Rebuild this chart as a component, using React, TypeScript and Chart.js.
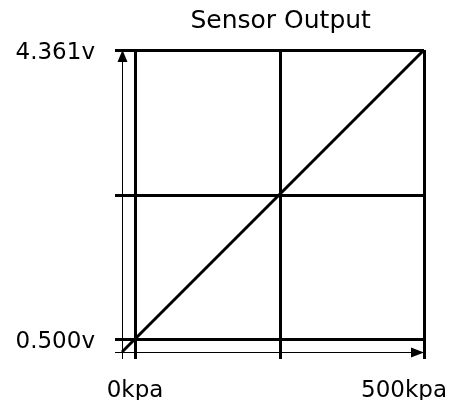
import React, { useEffect, useRef } from "react";
import { Chart, registerables } from "chart.js";

Chart.register(...registerables);

const chartTitle = "Sensor Output";
const xAxisMin = -22.5;
const xAxisMax = 500;
const yAxisMin = 0.33;
const yAxisMax = 4.361;
const xTickValues = [0, 252, 500];
const xTickLabels = ["0kpa", "", "500kpa"];
const yTickValues = [0.5, 2.42, 4.361];
const yTickLabels = ["0.500v", "", "4.361v"];
const pressureKpa = [-22.5, 500];
const outputVolts = [0.33, 4.361];

const FONT = "'DejaVu Sans', sans-serif";

export default function App() {
  const ref = useRef<HTMLCanvasElement>(null);

  useEffect(() => {
    const canvas = ref.current;
    if (!canvas) return;

    const axisArrows = {
      id: "axisArrows",
      afterDraw(chart: any) {
        const { ctx, chartArea: a } = chart;
        const x = Math.round(a.left) + 0.5;
        const y = Math.round(a.bottom) + 0.5;
        ctx.save();
        ctx.fillStyle = "#000";
        ctx.beginPath();
        ctx.moveTo(x, a.top);
        ctx.lineTo(x - 5, a.top + 12);
        ctx.lineTo(x + 5, a.top + 12);
        ctx.closePath();
        ctx.fill();
        ctx.beginPath();
        ctx.moveTo(a.right, y);
        ctx.lineTo(a.right - 13, y - 5);
        ctx.lineTo(a.right - 13, y + 5);
        ctx.closePath();
        ctx.fill();
        ctx.restore();
      },
    };

    const centeredTitle = {
      id: "centeredTitle",
      afterDraw(chart: any) {
        const { ctx } = chart;
        const xs = chart.scales.x;
        ctx.save();
        ctx.font = `25px ${FONT}`;
        ctx.fillStyle = "#000";
        ctx.textAlign = "center";
        ctx.textBaseline = "alphabetic";
        ctx.fillText(chartTitle, xs.getPixelForValue(xTickValues[1]), 20);
        ctx.restore();
      },
    };

    const keepLastLabelInside = {
      id: "keepLastLabelInside",
      beforeDraw(chart: any) {
        const xs = chart.scales.x;
        const items = xs.getLabelItems();
        const last = items[items.length - 1];
        if (last) {
          last.options.textAlign = "right";
          last.options.translation = [chart.width, last.options.translation[1]];
        }
      },
    };

    const chart = new Chart(canvas, {
      type: "line",
      data: {
        datasets: [
          {
            data: pressureKpa.map((x, i) => ({ x, y: outputVolts[i] })),
            borderColor: "#000",
            borderWidth: 3,
            pointRadius: 0,
            fill: false,
            clip: false as any,
          },
        ],
      },
      options: {
        responsive: false,
        animation: false,
        layout: { padding: { top: 42, right: 23, left: 0, bottom: 0 } },
        plugins: {
          legend: { display: false },
          tooltip: { enabled: false },
          title: { display: false },
        },
        scales: {
          x: {
            type: "linear",
            min: xAxisMin,
            max: xAxisMax,
            afterBuildTicks: (s: any) => {
              s.ticks = [xAxisMin, ...xTickValues].map((v) => ({ value: v }));
            },
            afterFit: (s: any) => {
              s.height = 56;
              s.paddingLeft = 0;
              s.paddingRight = 0;
            },
            ticks: {
              autoSkip: false,
              maxRotation: 0,
              padding: 18,
              color: "#000",
              font: { family: FONT, size: 23 },
              callback: (v: any) => {
                const k = xTickValues.indexOf(Number(v));
                return k >= 0 ? xTickLabels[k] : "";
              },
            },
            grid: {
              color: "#000",
              lineWidth: (c: any) => (c.index === 0 ? 1 : 3),
              tickLength: 7,
              drawTicks: true,
            },
            border: { display: false },
          },
          y: {
            type: "linear",
            min: yAxisMin,
            max: yAxisMax,
            afterBuildTicks: (s: any) => {
              s.ticks = [yAxisMin, ...yTickValues].map((v) => ({ value: v }));
            },
            afterFit: (s: any) => {
              s.width = 114;
              s.paddingTop = 0;
              s.paddingBottom = 0;
            },
            ticks: {
              autoSkip: false,
              padding: 20,
              labelOffset: 3,
              color: "#000",
              font: { family: FONT, size: 23 },
              callback: (v: any) => {
                const k = yTickValues.indexOf(Number(v));
                return k >= 0 ? yTickLabels[k] : "";
              },
            },
            grid: {
              color: "#000",
              lineWidth: (c: any) => (c.index === 0 ? 1 : 3),
              tickLength: 7,
              drawTicks: true,
            },
            border: { display: false },
          },
        },
      },
      plugins: [keepLastLabelInside, axisArrows, centeredTitle],
    });

    return () => chart.destroy();
  }, []);

  return (
    <canvas
      ref={ref}
      width={439}
      height={400}
      style={{ display: "block", width: 439, height: 400, marginBottom: -8 }}
    />
  );
}
